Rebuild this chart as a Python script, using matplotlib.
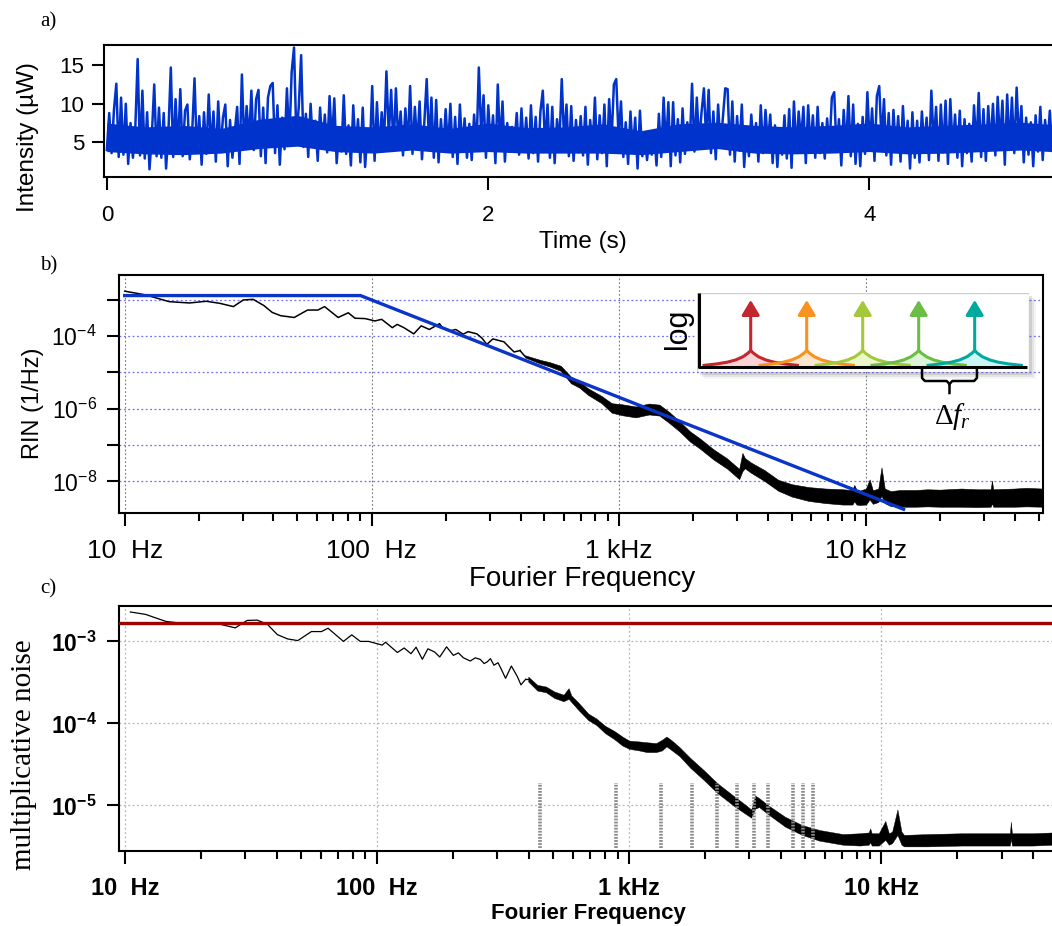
import numpy as np
import matplotlib.pyplot as plt
from matplotlib.patches import Rectangle
from matplotlib.ticker import LogLocator, NullFormatter

plt.rcParams['font.family'] = ['Liberation Sans', 'DejaVu Sans']
plt.rcParams['mathtext.fontset'] = 'custom'
plt.rcParams['mathtext.rm'] = 'Liberation Serif'
plt.rcParams['mathtext.it'] = 'Liberation Serif:italic'
plt.rcParams['mathtext.bf'] = 'Liberation Sans:bold'

# ---- a) intensity time trace (uW), sampled evenly over 0 .. 4.96 s
intensity = [
    4.0, 8.8, 3.6, 9.2, 12.6, 3.1, 10.8, 3.4, 10.0, 2.2,
    7.5, 3.0, 6.8, 15.8, 3.3, 11.7, 2.9, 8.9, 1.5, 6.0,
    12.5, 3.2, 9.5, 3.0, 8.8, 1.6, 6.5, 14.7, 3.1, 10.6,
    4.0, 11.9, 3.2, 9.1, 9.9, 2.8, 6.3, 13.3, 3.6, 8.4,
    2.1, 8.9, 3.5, 11.2, 4.2, 9.0, 2.5, 10.3, 3.8, 8.2,
    9.9, 1.9, 7.9, 3.0, 6.4, 9.6, 2.2, 13.8, 4.4, 9.7,
    5.1, 11.7, 4.0, 10.6, 11.8, 3.2, 9.5, 2.3, 10.8, 12.3,
    12.7, 3.6, 9.8, 2.1, 8.2, 4.1, 12.0, 5.0, 14.1, 17.3,
    5.5, 9.6, 16.3, 4.4, 8.7, 3.1, 10.0, 4.6, 7.8, 2.6,
    9.5, 4.3, 8.6, 3.7, 11.0, 4.9, 10.7, 2.3, 6.6, 3.8,
    11.1, 3.5, 7.2, 2.0, 9.8, 3.9, 8.0, 2.4, 9.5, 1.8,
    6.4, 4.0, 12.3, 2.6, 10.2, 3.8, 8.9, 5.2, 14.2, 5.8,
    11.8, 3.9, 12.0, 5.0, 9.0, 3.3, 9.4, 4.4, 12.3, 3.5,
    9.6, 4.5, 10.3, 2.8, 7.6, 13.2, 4.6, 10.8, 3.0, 10.5,
    2.4, 8.0, 3.9, 9.3, 4.2, 10.0, 3.1, 8.3, 2.2, 9.9,
    4.1, 8.1, 3.0, 7.4, 2.7, 8.6, 4.0, 14.7, 6.0, 11.1,
    3.0, 9.8, 4.4, 8.5, 2.3, 12.5, 4.5, 10.3, 2.5, 7.5,
    3.8, 7.0, 4.6, 8.8, 3.4, 9.4, 4.0, 8.2, 2.9, 9.8,
    3.6, 8.3, 2.5, 9.0, 11.7, 4.4, 9.9, 3.0, 9.6, 2.3,
    8.0, 4.8, 13.2, 5.2, 9.9, 3.2, 9.7, 2.6, 7.9, 3.7,
    8.4, 3.3, 9.6, 2.1, 7.9, 4.0, 10.8, 2.8, 8.5, 3.6,
    9.9, 1.9, 10.6, 5.0, 12.5, 13.2, 5.5, 10.3, 3.1, 7.6,
    2.2, 9.0, 3.7, 8.2, 1.6, 9.1, 3.2, 6.3, 2.7, 5.8,
    3.4, 6.5, 2.0, 8.7, 3.1, 10.8, 4.2, 10.2, 1.9, 10.2,
    3.3, 8.0, 2.4, 9.4, 3.5, 7.6, 4.6, 12.6, 3.8, 10.8,
    4.9, 8.9, 12.0, 5.1, 11.8, 3.6, 9.0, 2.8, 9.9, 4.3,
    8.1, 12.0, 11.9, 3.4, 10.3, 2.5, 8.4, 3.9, 9.9, 1.8,
    7.0, 3.2, 8.6, 4.1, 7.5, 2.5, 9.8, 3.6, 9.2, 4.8,
    8.6, 2.3, 7.2, 1.8, 6.7, 3.4, 8.5, 2.9, 9.3, 1.7,
    10.3, 3.9, 9.0, 5.2, 9.6, 2.3, 9.8, 4.4, 8.5, 3.0,
    9.6, 3.6, 7.5, 2.9, 8.1, 4.2, 10.8, 11.5, 3.8, 8.0,
    2.0, 9.2, 4.1, 11.0, 3.2, 9.9, 2.2, 7.4, 1.9, 8.3,
    3.5, 11.5, 4.6, 9.4, 2.6, 11.0, 12.3, 5.1, 10.6, 3.3,
    8.8, 2.1, 9.2, 4.0, 8.4, 2.5, 9.7, 3.9, 7.8, 1.6,
    8.9, 3.0, 7.8, 2.4, 9.0, 4.5, 8.2, 2.7, 11.7, 4.8,
    9.6, 2.6, 9.9, 3.7, 10.4, 2.2, 10.6, 4.1, 8.6, 3.0,
    9.1, 1.9, 8.0, 3.6, 7.4, 2.5, 9.8, 4.4, 11.4, 3.1,
    9.3, 2.6, 9.7, 4.5, 10.0, 3.3, 10.9, 4.9, 10.4, 2.1,
    11.2, 4.2, 10.8, 3.6, 12.1, 5.0, 9.7, 2.4, 8.2, 3.4,
    7.6, 1.9, 8.5, 3.8, 9.6, 2.7, 7.9, 4.6, 9.1, 3.9,
]
t_end = 4.96
# dense core of the trace (where the blue is solid)
core_t = [0.0, 0.2, 0.4, 0.6, 0.8, 1.0, 1.2, 1.4, 1.6, 1.8, 2.0, 2.2, 2.4,
          2.6, 2.8, 3.0, 3.2, 3.4, 3.6, 3.8, 4.0, 4.2, 4.4, 4.6, 4.8, 4.96]
core_lo = [3.8, 3.5, 3.4, 3.6, 4.2, 4.5, 3.8, 3.6, 4.0, 3.6, 3.8, 3.6, 3.6,
           3.6, 3.4, 3.8, 4.2, 3.6, 3.5, 3.6, 3.8, 3.5, 3.6, 3.8, 4.0, 3.8]
core_hi = [7.5, 7.0, 7.2, 6.8, 8.0, 8.5, 7.2, 7.0, 7.4, 6.8, 7.5, 6.9, 7.0,
           7.4, 6.5, 7.4, 7.6, 7.2, 7.0, 7.2, 7.5, 7.0, 7.2, 7.4, 7.6, 7.3]

# ---- b) RIN spectrum, log10(f/Hz) and log10(RIN)
rin_logf = [1.0, 1.084, 1.18, 1.262, 1.33, 1.385, 1.44, 1.48, 1.52, 1.563,
            1.597, 1.631, 1.686, 1.74, 1.782, 1.809, 1.864, 1.905, 1.932, 1.973,
            2.013, 2.04, 2.083, 2.103, 2.13, 2.17, 2.2, 2.233, 2.274, 2.29,
            2.315, 2.34, 2.37, 2.39, 2.425, 2.445, 2.466, 2.49, 2.535, 2.555,
            2.576, 2.6]
rin_logv = [-2.765, -2.867, -3.054, -3.09, -3.043, -3.10, -3.19, -3.007, -2.99, -3.16,
            -3.35, -3.44, -3.49, -3.285, -3.285, -3.19, -3.49, -3.36, -3.51, -3.52,
            -3.585, -3.54, -3.77, -3.68, -3.77, -3.94, -3.72, -3.82, -3.66, -3.80,
            -3.86, -3.82, -3.95, -3.88, -3.94, -4.05, -4.23, -4.08, -4.16, -4.30,
            -4.44, -4.40]
# noisy part drawn as a band (lower / upper envelope)
rin_band_logf = [2.62, 2.683, 2.72, 2.765, 2.806, 2.84, 2.875, 2.93, 2.971, 3.013,
                 3.068, 3.122, 3.164, 3.205, 3.246, 3.287, 3.328, 3.383, 3.438, 3.487,
                 3.5, 3.51, 3.534, 3.589, 3.645, 3.7, 3.768, 3.837, 3.906, 3.945,
                 3.953, 3.962, 3.974, 4.0, 4.015, 4.028, 4.05, 4.063, 4.076, 4.1,
                 4.139, 4.2, 4.249, 4.3, 4.386, 4.45, 4.505, 4.51, 4.515, 4.6,
                 4.65, 4.715]
rin_band_lo = [-4.59, -4.76, -4.84, -4.96, -5.30, -5.42, -5.62, -5.85, -6.11, -6.18,
               -6.24, -6.16, -6.19, -6.40, -6.63, -6.90, -7.10, -7.40, -7.65, -7.94,
               -7.72, -7.64, -7.76, -7.99, -8.26, -8.42, -8.54, -8.60, -8.64, -8.64,
               -8.55, -8.64, -8.65, -8.64, -8.50, -8.62, -8.57, -8.40, -8.60, -8.68,
               -8.70, -8.70, -8.69, -8.70, -8.70, -8.71, -8.70, -8.60, -8.70, -8.70,
               -8.69, -8.70]
rin_band_hi = [-4.53, -4.66, -4.72, -4.82, -5.12, -5.24, -5.44, -5.65, -5.85, -5.88,
               -5.94, -5.86, -5.89, -6.10, -6.35, -6.62, -6.82, -7.12, -7.37, -7.66,
               -7.22, -7.36, -7.48, -7.69, -7.96, -8.08, -8.16, -8.20, -8.22, -8.24,
               -8.10, -8.24, -8.26, -8.20, -7.95, -8.25, -8.20, -7.62, -8.20, -8.27,
               -8.24, -8.24, -8.22, -8.23, -8.20, -8.22, -8.22, -7.98, -8.22, -8.20,
               -8.18, -8.20]
# piecewise model (blue)
model_f = [10, 90, 14200]
model_rin = [1.3e-3, 1.3e-3, 1.7e-9]

# ---- c) multiplicative noise
mn_logf = [1.022, 1.082, 1.163, 1.243, 1.31, 1.377, 1.438, 1.485, 1.525, 1.565,
           1.605, 1.646, 1.686, 1.74, 1.78, 1.806, 1.867, 1.9, 1.934, 1.967,
           2.021, 2.034, 2.081, 2.108, 2.135, 2.155, 2.18, 2.202, 2.229, 2.249,
           2.276, 2.303, 2.323, 2.343, 2.37, 2.39, 2.41, 2.425, 2.437, 2.45,
           2.464, 2.48, 2.49, 2.51, 2.533, 2.557, 2.571, 2.59]
mn_logv = [-2.641, -2.67, -2.756, -2.785, -2.78, -2.79, -2.835, -2.744, -2.74, -2.79,
           -2.917, -2.97, -2.99, -2.88, -2.88, -2.839, -3.0, -2.92, -3.0, -3.0,
           -3.045, -3.01, -3.135, -3.08, -3.15, -3.07, -3.218, -3.09, -3.13, -3.19,
           -3.066, -3.17, -3.14, -3.2, -3.239, -3.2, -3.22, -3.27, -3.25, -3.21,
           -3.29, -3.26, -3.32, -3.45, -3.3, -3.43, -3.53, -3.46]
mn_band_logf = [2.6, 2.636, 2.67, 2.703, 2.74, 2.76, 2.771, 2.80, 2.838, 2.87,
                2.905, 2.94, 2.973, 3.0, 3.04, 3.07, 3.107, 3.13, 3.148, 3.17,
                3.2, 3.242, 3.296, 3.35, 3.417, 3.46, 3.484, 3.50, 3.515, 3.552,
                3.619, 3.686, 3.754, 3.848, 3.915, 3.95, 3.956, 3.962, 3.99, 4.016,
                4.03, 4.043, 4.064, 4.08, 4.09, 4.184, 4.319, 4.45, 4.51, 4.514,
                4.518, 4.6, 4.68]
mn_band_lo = [-3.49, -3.60, -3.62, -3.69, -3.73, -3.70, -3.74, -3.84, -3.96, -4.02,
              -4.12, -4.19, -4.27, -4.31, -4.33, -4.35, -4.35, -4.33, -4.28, -4.33,
              -4.40, -4.54, -4.69, -4.85, -5.01, -5.10, -5.15, -5.04, -5.02, -5.11,
              -5.26, -5.36, -5.43, -5.48, -5.49, -5.48, -5.45, -5.49, -5.49, -5.42,
              -5.48, -5.46, -5.36, -5.48, -5.50, -5.50, -5.49, -5.49, -5.49, -5.40,
              -5.49, -5.49, -5.48]
mn_band_hi = [-3.43, -3.53, -3.55, -3.61, -3.65, -3.57, -3.66, -3.75, -3.88, -3.94,
              -4.03, -4.09, -4.16, -4.21, -4.22, -4.23, -4.24, -4.20, -4.16, -4.21,
              -4.29, -4.42, -4.57, -4.73, -4.89, -4.99, -5.05, -4.88, -4.91, -5.00,
              -5.14, -5.24, -5.30, -5.35, -5.34, -5.33, -5.28, -5.34, -5.34, -5.19,
              -5.34, -5.32, -5.05, -5.32, -5.36, -5.35, -5.34, -5.34, -5.34, -5.20,
              -5.34, -5.34, -5.33]
mn_limit = 1.69e-3
# harmonics of ~445 Hz marked in grey
harmonic_hz = [445, 890, 1335, 1780, 2225, 2670, 3115, 3560, 4450, 4895, 5340]
harmonic_span = (3.0e-6, 1.9e-5)

# ---- inset comb
comb_colors = ['#c1272d', '#f7931e', '#a5c83b', '#6cbd46', '#00a99d']
comb_fills = ['#fbd3d6', '#fde6cf', '#ecf6cc', '#ddf5d6', '#ccf6f6']
profile_dx = [-0.86, -0.62, -0.42, -0.27, -0.14, -0.05, 0.0,
              0.05, 0.14, 0.27, 0.42, 0.62, 0.86]
profile_h = [0.0, 0.1, 0.22, 0.37, 0.58, 0.82, 1.0,
             0.82, 0.58, 0.37, 0.22, 0.1, 0.0]

W, H = 1052.0, 926.0
fig = plt.figure(figsize=(W / 100, H / 100), dpi=100)


def px_axes(x0, y0, x1, y1, **kw):
    return fig.add_axes([x0 / W, 1 - y1 / H, (x1 - x0) / W, (y1 - y0) / H], **kw)


def style_log_x(ax, labelsize, weight='normal'):
    ax.set_xscale('log')
    ax.set_xticks([10, 100, 1000, 10000])
    ax.set_xticklabels(['10  Hz', '100  Hz', '1 kHz', '10 kHz'],
                       fontsize=labelsize, fontweight=weight)
    ax.xaxis.set_minor_locator(LogLocator(base=10, subs=np.arange(2, 10), numticks=20))
    ax.xaxis.set_minor_formatter(NullFormatter())
    ax.tick_params(axis='x', which='major', direction='out', length=9.5, width=1.5, pad=9)
    ax.tick_params(axis='x', which='minor', direction='out', length=5.5, width=1.5)


# ================= a)
ax_a = px_axes(103.8, 45, 1056, 176.8)
t = np.linspace(0, t_end, len(intensity))
ax_a.fill_between(core_t, core_lo, core_hi, color='#0033cc', lw=0)
ax_a.plot(t, intensity, color='#0033cc', lw=1.8)
ax_a.set_xlim(-0.016, 4.98)
ax_a.set_ylim(0.53, 17.62)
ax_a.set_xticks([0, 2, 4])
ax_a.set_yticks([5, 10, 15])
ax_a.tick_params(direction='out', length=9, width=1.5, labelsize=16)
ax_a.tick_params(axis='x', pad=11)
ax_a.tick_params(axis='y', pad=5)
ax_a.spines['right'].set_visible(False)
for s in ax_a.spines.values():
    s.set_linewidth(1.5)
fig.text(28 / W, 1 - 137 / H, 'Intensity (µW)', rotation=90, ha='center', va='center', fontsize=17.5)
fig.text(583 / W, 1 - 242 / H, 'Time (s)', ha='center', va='center', fontsize=17.5)

# ================= b)
ax_b = px_axes(119, 275, 1042.6, 512.9)
ax_b.set_yscale('log')
ax_b.plot(10 ** np.array(rin_logf), 10 ** np.array(rin_logv), color='k', lw=1.1, zorder=3)
bf = 10 ** np.array(rin_band_logf)
ax_b.fill_between(bf, 10 ** np.array(rin_band_lo), 10 ** np.array(rin_band_hi),
                  color='k', lw=0.4, zorder=3)
ax_b.plot([10 ** rin_logf[-1], bf[0]], [10 ** rin_logv[-1], 10 ** ((rin_band_lo[0] + rin_band_hi[0]) / 2)],
          color='k', lw=1.1, zorder=3)
ax_b.plot(model_f, model_rin, color='#0a35c8', lw=2.4, zorder=4)
style_log_x(ax_b, 19)
ax_b.set_xlim(10 ** 0.977, 10 ** 4.715)
ax_b.set_ylim(10 ** -8.87, 10 ** -2.32)
ydec = [1e-8, 1e-7, 1e-6, 1e-5, 1e-4, 1e-3]
ax_b.set_yticks(ydec)
ax_b.set_yticklabels([r'$\mathregular{10^{-8}}$', '', r'$\mathregular{10^{-6}}$', '',
                      r'$\mathregular{10^{-4}}$', ''], fontsize=16.5)
ax_b.yaxis.set_minor_locator(plt.NullLocator())
ax_b.tick_params(axis='y', direction='out', length=9, width=1.5, pad=7)
for y in ydec:
    ax_b.axhline(y, color='#6f6fff', lw=0.9, ls=(0, (1.5, 2)), zorder=1)
for x in [10, 100, 1000, 10000]:
    ax_b.axvline(x, color='#777777', lw=0.8, ls=(0, (1.5, 2)), zorder=1)
for s in ax_b.spines.values():
    s.set_linewidth(1.5)
fig.text(33 / W, 1 - 403 / H, 'RIN (1/Hz)', rotation=90, ha='center', va='center', fontsize=17)
fig.text(582 / W, 1 - 579 / H, 'Fourier Frequency', ha='center', va='center', fontsize=20)

# ---- inset: frequency comb sketch
ins = px_axes(697, 293, 1029, 372, zorder=6)
ins.set_xlim(-0.959, 4.97)
ins.set_ylim(0, 79)
ins.axis('off')
ins.add_patch(Rectangle((0, 0), 1, 1, transform=ins.transAxes, facecolor='white',
                        edgecolor='#cfcfcf', lw=1.0, zorder=0))
for off, a in [(7, 0.06), (5, 0.1), (3, 0.16)]:
    fig.add_artist(Rectangle(((697 + off) / W, 1 - (372 + off) / H), 332 / W, 79 / H,
                             transform=fig.transFigure, facecolor='#555555',
                             edgecolor='none', alpha=a, zorder=5))
base, top_h, tip = 6.5, 15.0, 72
for i, (c, fc) in enumerate(zip(comb_colors, comb_fills)):
    xs = i + np.array(profile_dx)
    ys = base + top_h * np.array(profile_h)
    ins.fill_between(xs, base, ys, color=fc, lw=0, zorder=1)
for i, c in enumerate(comb_colors):
    xs = i + np.array(profile_dx)
    ys = base + top_h * np.array(profile_h)
    ins.plot(xs, ys, color=c, lw=2.2, zorder=2, solid_capstyle='butt')
    ins.annotate('', xy=(i, tip), xytext=(i, base + top_h),
                 arrowprops=dict(arrowstyle='-|>,head_length=0.45,head_width=0.27',
                                 color=c, lw=2.2, shrinkA=0, shrinkB=0, mutation_scale=20),
                 zorder=3)
ins.plot([0.006, 0.006, 0.994], [1.0, 0.058, 0.058], transform=ins.transAxes,
         color='k', lw=2.2, zorder=4, solid_capstyle='butt')
# brace between neighbouring teeth
b0, b1 = 3.06, 4.04
bm = (b0 + b1) / 2
brace_kw = dict(color='k', lw=1.8, clip_on=False, zorder=4)
ins.plot([b0, b0, b0 + 0.05, bm - 0.05, bm, bm], [2, -6, -9, -9, -12, -21], **brace_kw)
ins.plot([bm, bm + 0.05, b1 - 0.05, b1, b1], [-12, -9, -9, -6, 2], **brace_kw)
ins.text(bm + 0.06, -45, r'$\Delta f_r$', ha='center', va='center', fontsize=21, clip_on=False)
fig.text(678 / W, 1 - 329 / H, 'log', rotation=90, ha='center', va='center', fontsize=22)

# ================= c)
ax_c = px_axes(119, 606, 1056, 851.3)
ax_c.set_yscale('log')
ax_c.plot(10 ** np.array(mn_logf), 10 ** np.array(mn_logv), color='k', lw=0.9, zorder=3)
cf = 10 ** np.array(mn_band_logf)
ax_c.fill_between(cf, 10 ** np.array(mn_band_lo), 10 ** np.array(mn_band_hi),
                  color='k', lw=0.3, zorder=3)
ax_c.plot([10 ** mn_logf[-1], cf[0]], [10 ** mn_logv[-1], 10 ** ((mn_band_lo[0] + mn_band_hi[0]) / 2)],
          color='k', lw=0.9, zorder=3)
ax_c.axhline(mn_limit, xmin=0.0, color='#a00000', lw=2.4, zorder=4)
ax_c.vlines(harmonic_hz, *harmonic_span, colors='#8a8a8a', lw=2.6,
            linestyles=(0, (0.5, 0.35)), zorder=5)
style_log_x(ax_c, 17, weight='bold')
ax_c.set_xlim(10 ** 0.977, 10 ** (4 + (1056 - 881.4) / 252))
ax_c.set_ylim(10 ** -5.56, 10 ** -2.568)
ax_c.set_yticks([1e-5, 1e-4, 1e-3])
ax_c.set_yticklabels([r'$\mathbf{10^{-5}}$', r'$\mathbf{10^{-4}}$', r'$\mathbf{10^{-3}}$'],
                     fontsize=16.5)
ax_c.yaxis.set_minor_locator(plt.NullLocator())
ax_c.tick_params(axis='y', direction='out', length=9, width=1.5, pad=7)
for y in [1e-5, 1e-4, 1e-3]:
    ax_c.axhline(y, color='#b5b5b5', lw=0.9, ls=(0, (1.5, 2)), zorder=1)
for x in [10, 100, 1000, 10000]:
    ax_c.axvline(x, color='#b5b5b5', lw=0.9, ls=(0, (1.5, 2)), zorder=1)
ax_c.spines['right'].set_visible(False)
for s in ax_c.spines.values():
    s.set_linewidth(1.5)
fig.text(24.5 / W, 1 - 755 / H, 'multiplicative noise', rotation=90, ha='center', va='center',
         fontsize=21, family='Liberation Serif')
fig.text(588 / W, 1 - 903 / H, 'Fourier Frequency', ha='center', va='top',
         fontsize=16, fontweight='bold')

# panel letters
for lab, y in [('a)', 22), ('b)', 266), ('c)', 589)]:
    fig.text(40 / W, 1 - y / H, lab, ha='left', va='center', fontsize=15, family='Liberation Serif')

fig.savefig('out.png', dpi=100)
